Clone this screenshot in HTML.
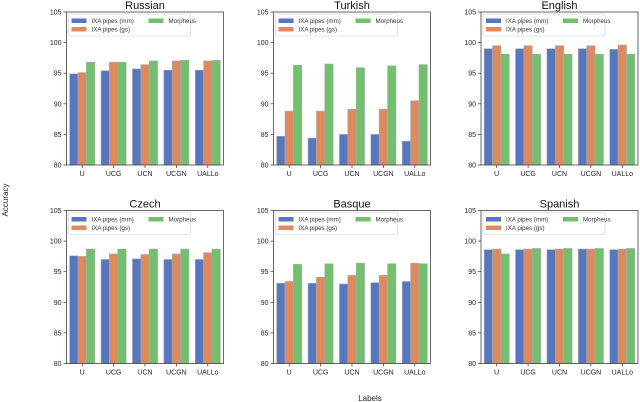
<!DOCTYPE html>
<html><head><meta charset="utf-8"><style>
html,body{margin:0;padding:0;background:#fff;}
svg{display:block;font-family:"Liberation Sans","DejaVu Sans",sans-serif;}
</style></head><body>
<svg id="c" width="640" height="402" viewBox="0 0 640 402">
<text x="8" y="200" font-size="8" text-anchor="middle" transform="rotate(-90 8 200)" fill="#222">Accuracy</text>
<text x="370" y="401" font-size="8" text-anchor="middle" fill="#222">Labels</text>
</svg>
<script>
const categories = ["U","UCG","UCN","UCGN","UALLo"];
const titles = ["Russian","Turkish","English","Czech","Basque","Spanish"];
const seriesNames = ["IXA pipes (mm)","IXA pipes (gs)","Morpheus"];
const yTicks = [80,85,90,95,100,105];
const mmVals = [
 [94.9,95.4,95.7,95.5,95.5],
 [84.7,84.4,85.0,85.0,83.9],
 [99.0,99.0,99.0,99.0,98.9],
 [97.6,97.0,97.1,97.0,97.0],
 [93.1,93.1,93.0,93.2,93.4],
 [98.6,98.6,98.6,98.7,98.6]
];
const gsVals = [
 [95.1,96.8,96.4,97.0,97.0],
 [88.8,88.8,89.1,89.1,90.5],
 [99.5,99.5,99.5,99.5,99.6],
 [97.5,97.9,97.8,97.9,98.1],
 [93.4,94.1,94.4,94.4,96.4],
 [98.7,98.7,98.7,98.7,98.7]
];
const morphVals = [
 [96.8,96.8,97.0,97.1,97.1],
 [96.3,96.5,95.9,96.2,96.4],
 [98.1,98.1,98.1,98.1,98.1],
 [98.7,98.7,98.7,98.7,98.7],
 [96.2,96.3,96.4,96.3,96.3],
 [97.9,98.8,98.8,98.8,98.8]
];
const colors = ["#5677bf","#dd8a5e","#72bf6e"];
const NS = "http://www.w3.org/2000/svg";
const svg = document.getElementById("c");
function mk(tag, attrs, parent){const e=document.createElementNS(NS,tag);for(const k in attrs)e.setAttribute(k,attrs[k]);(parent||svg).appendChild(e);return e;}
const lefts=[66.5,273.5,481], tops=[12,210.5], W=157, H=153;
for(let p=0;p<6;p++){
  const L=lefts[p%3], T=tops[Math.floor(p/3)];
  const g=mk("g",{});
  
  
  const y=v=>T+H-(v-80)/25*H;
  const x=i=>L+W*(i+0.5)/5;
  const t=mk("text",{x:L+W/2,y:T-3,"font-size":"11","font-weight":"normal","text-anchor":"middle",fill:"#111"},g);
  t.textContent=titles[p];
  
  
  yTicks.forEach(v=>{
    mk("line",{x1:L-3,x2:L,y1:y(v),y2:y(v),stroke:"#333","stroke-width":"0.7"},g);
    const tl=mk("text",{x:L-5,y:y(v)+2.5,"font-size":"7","text-anchor":"end",fill:"#222"},g);
    tl.textContent=v;
    
    
  });
  const all=[mmVals[p],gsVals[p],morphVals[p]];
  const bw=W/5*0.8/3;
  categories.forEach((c,i)=>{
    all.forEach((s,k)=>{
      const bx=x(i)-1.5*bw+k*bw;
      const r=mk("rect",{x:bx,y:y(s[i]),width:bw,height:y(80)-y(s[i]),fill:colors[k],stroke:"#aaa","stroke-width":"0.6"},g);
      
      
    });
    mk("line",{x1:x(i),x2:x(i),y1:T+H,y2:T+H+3,stroke:"#333","stroke-width":"0.7"},g);
    const cl=mk("text",{x:x(i),y:T+H+11,"font-size":"7","text-anchor":"middle",fill:"#222"},g);
    cl.textContent=c;
    
    
  });
  mk("rect",{x:L,y:T,width:W,height:H,fill:"none",stroke:"#444","stroke-width":"0.8"},g);
  const lg=mk("g",{},g);
  
  
  mk("rect",{x:L+2,y:T+2,width:122,height:22,fill:"#fff",stroke:"#ccc","stroke-width":"0.6",rx:"1.5"},lg);
  const pos=[[L+5,T+6],[L+5,T+14.5],[L+82,T+6]];
  seriesNames.forEach((n,k)=>{
    mk("rect",{x:pos[k][0],y:pos[k][1]+0.5,width:15,height:4.5,fill:colors[k]},lg);
    const lt=mk("text",{x:pos[k][0]+20,y:pos[k][1]+5,"font-size":"6.2",fill:"#333"},lg);
    lt.textContent=n;
    
    
  });
}
</script>
</body></html>
